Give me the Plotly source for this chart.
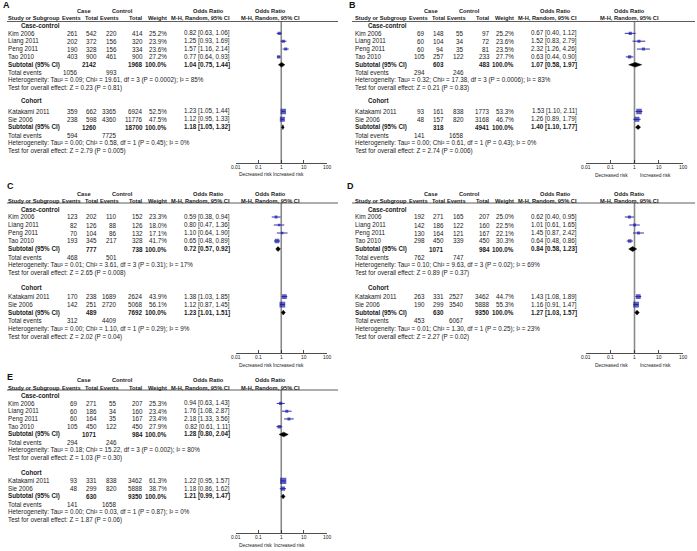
import math
import plotly.graph_objects as go

W, H = 697, 551
FONT = "Liberation Sans, Arial, sans-serif"

STUDIES = ["Kim 2006", "Liang 2011", "Peng 2011", "Tao 2010", "Katakami 2011", "Sie 2006"]
GROUPS = ["Case-control", "Cohort"]
TICK_VALS = [0.01, 0.1, 1, 10, 100]
TICK_TEXT = ["0.01", "0.1", "1", "10", "100"]
PANELS = ["A", "B", "C", "D", "E"]

# ---------------- Panel A ----------------
A_case_events = [261, 202, 190, 403, 359, 238]
A_case_total = [542, 372, 328, 900, 662, 598]
A_ctrl_events = [220, 156, 156, 461, 3365, 4360]
A_ctrl_total = [414, 320, 334, 900, 6924, 11776]
A_weight = [25.2, 23.9, 23.6, 27.2, 52.5, 47.5]
A_or = [0.82, 1.25, 1.57, 0.77, 1.23, 1.12]
A_lo = [0.63, 0.93, 1.16, 0.64, 1.05, 0.95]
A_hi = [1.06, 1.69, 2.14, 0.93, 1.44, 1.33]
A_sub_case_total = [2142, 1260]
A_sub_ctrl_total = [1968, 18700]
A_sub_or = [1.04, 1.18]
A_sub_lo = [0.75, 1.05]
A_sub_hi = [1.44, 1.32]
A_tot_case_events = [1056, 594]
A_tot_ctrl_events = [993, 7725]
A_het = ["Tau² = 0.09; Chi² = 19.61, df = 3 (P = 0.0002); I² = 85%",
         "Tau² = 0.00; Chi² = 0.58, df = 1 (P = 0.45); I² = 0%"]
A_test = ["Z = 0.23 (P = 0.81)", "Z = 2.79 (P = 0.005)"]

# ---------------- Panel B ----------------
B_case_events = [69, 60, 60, 105, 93, 48]
B_case_total = [148, 104, 94, 257, 161, 157]
B_ctrl_events = [55, 34, 35, 122, 838, 820]
B_ctrl_total = [97, 72, 81, 233, 1773, 3168]
B_weight = [25.2, 23.6, 23.5, 27.7, 53.3, 46.7]
B_or = [0.67, 1.52, 2.32, 0.63, 1.53, 1.26]
B_lo = [0.40, 0.83, 1.26, 0.44, 1.10, 0.89]
B_hi = [1.12, 2.79, 4.26, 0.90, 2.11, 1.79]
B_sub_case_total = [603, 318]
B_sub_ctrl_total = [483, 4941]
B_sub_or = [1.07, 1.40]
B_sub_lo = [0.58, 1.10]
B_sub_hi = [1.97, 1.77]
B_tot_case_events = [294, 141]
B_tot_ctrl_events = [246, 1658]
B_het = ["Tau² = 0.32; Chi² = 17.38, df = 3 (P = 0.0006); I² = 83%",
         "Tau² = 0.00; Chi² = 0.61, df = 1 (P = 0.43); I² = 0%"]
B_test = ["Z = 0.21 (P = 0.83)", "Z = 2.74 (P = 0.006)"]

# ---------------- Panel C ----------------
C_case_events = [123, 82, 70, 193, 170, 142]
C_case_total = [202, 126, 104, 345, 238, 251]
C_ctrl_events = [110, 88, 86, 217, 1689, 2720]
C_ctrl_total = [152, 126, 132, 328, 2624, 5068]
C_weight = [23.3, 18.0, 17.1, 41.7, 43.9, 56.1]
C_or = [0.59, 0.80, 1.10, 0.65, 1.38, 1.12]
C_lo = [0.38, 0.47, 0.64, 0.48, 1.03, 0.87]
C_hi = [0.94, 1.36, 1.90, 0.89, 1.85, 1.45]
C_sub_case_total = [777, 489]
C_sub_ctrl_total = [738, 7692]
C_sub_or = [0.72, 1.23]
C_sub_lo = [0.57, 1.01]
C_sub_hi = [0.92, 1.51]
C_tot_case_events = [468, 312]
C_tot_ctrl_events = [501, 4409]
C_het = ["Tau² = 0.01; Chi² = 3.61, df = 3 (P = 0.31); I² = 17%",
         "Tau² = 0.00; Chi² = 1.10, df = 1 (P = 0.29); I² = 9%"]
C_test = ["Z = 2.65 (P = 0.008)", "Z = 2.02 (P = 0.04)"]

# ---------------- Panel D ----------------
D_case_events = [192, 142, 130, 298, 263, 190]
D_case_total = [271, 186, 164, 450, 331, 299]
D_ctrl_events = [165, 122, 121, 339, 2527, 3540]
D_ctrl_total = [207, 160, 167, 450, 3462, 5888]
D_weight = [25.0, 22.5, 22.1, 30.3, 44.7, 55.3]
D_or = [0.62, 1.01, 1.45, 0.64, 1.43, 1.16]
D_lo = [0.40, 0.61, 0.87, 0.48, 1.08, 0.91]
D_hi = [0.95, 1.65, 2.42, 0.86, 1.89, 1.47]
D_sub_case_total = [1071, 630]
D_sub_ctrl_total = [984, 9350]
D_sub_or = [0.84, 1.27]
D_sub_lo = [0.58, 1.03]
D_sub_hi = [1.23, 1.57]
D_tot_case_events = [762, 453]
D_tot_ctrl_events = [747, 6067]
D_het = ["Tau² = 0.10; Chi² = 9.63, df = 3 (P = 0.02); I² = 69%",
         "Tau² = 0.01; Chi² = 1.30, df = 1 (P = 0.25); I² = 23%"]
D_test = ["Z = 0.89 (P = 0.37)", "Z = 2.27 (P = 0.02)"]

# ---------------- Panel E ----------------
E_case_events = [69, 60, 60, 105, 93, 48]
E_case_total = [271, 186, 164, 450, 331, 299]
E_ctrl_events = [55, 34, 35, 122, 838, 820]
E_ctrl_total = [207, 160, 167, 450, 3462, 5888]
E_weight = [25.3, 23.4, 23.4, 27.9, 61.3, 38.7]
E_or = [0.94, 1.76, 2.18, 0.82, 1.22, 1.18]
E_lo = [0.63, 1.08, 1.33, 0.61, 0.95, 0.86]
E_hi = [1.43, 2.87, 3.56, 1.11, 1.57, 1.62]
E_sub_case_total = [1071, 630]
E_sub_ctrl_total = [984, 9350]
E_sub_or = [1.28, 1.21]
E_sub_lo = [0.80, 0.99]
E_sub_hi = [2.04, 1.47]
E_tot_case_events = [294, 141]
E_tot_ctrl_events = [246, 1658]
E_het = ["Tau² = 0.18; Chi² = 15.22, df = 3 (P = 0.002); I² = 80%",
         "Tau² = 0.00; Chi² = 0.03, df = 1 (P = 0.87); I² = 0%"]
E_test = ["Z = 1.03 (P = 0.30)", "Z = 1.87 (P = 0.06)"]

DATA = {}
for _p in PANELS:
    g_ = globals()
    DATA[_p] = tuple(g_[f"{_p}_{k}"] for k in (
        "case_events", "case_total", "ctrl_events", "ctrl_total", "weight", "or", "lo", "hi",
        "sub_case_total", "sub_ctrl_total", "sub_or", "sub_lo", "sub_hi",
        "tot_case_events", "tot_ctrl_events", "het", "test"))

# ---------------- layout geometry (pixels) ----------------
GEOM = {
    "A": dict(dx=0, top=25.5, s=7.85, coh=9.55, cf=10.95, letter=(7, 5.5), hdr1=11, hdr2=18.3, hline=21.5,
              hline_x=(7, 338), axis_y=163.3, risk_y=174.5, plot_x=(236, 326.5), plot_hdr_x=270, risk_x=(255, 288)),
    "B": dict(dx=347, top=25.5, s=7.85, coh=9.55, cf=10.95, letter=(352, 5.5), hdr1=11, hdr2=18.3, hline=21.5,
              hline_x=(352, 695), axis_y=163.3, risk_y=175, plot_x=(585.7, 683.3), plot_hdr_x=629, risk_x=(611, 655)),
    "C": dict(dx=0, top=209, s=8.0, coh=9.8, cf=10.95, letter=(10, 185.5), hdr1=194, hdr2=200.7, hline=203,
              hline_x=(7, 338), axis_y=353, risk_y=365, plot_x=(236, 326.5), plot_hdr_x=270, risk_x=(255, 288)),
    "D": dict(dx=347, top=209, s=8.0, coh=9.8, cf=10.95, letter=(351, 185.5), hdr1=194, hdr2=200.7, hline=203,
              hline_x=(352, 695), axis_y=353.3, risk_y=365, plot_x=(585.7, 683.3), plot_hdr_x=629, risk_x=(611, 655)),
    "E": dict(dx=0, top=395.7, s=7.75, coh=9.9, cf=11.0, letter=(10, 376.5), hdr1=380, hdr2=387.7, hline=390,
              hline_x=(7, 338), axis_y=533.3, risk_y=545.7, plot_x=(236, 326.5), plot_hdr_x=270, risk_x=(255, 289)),
}
COL = dict(name=7.5, group=21, case_ev=78, case_tot=96.5, ctrl_ev=117, ctrl_tot=142.5, weight=167, orci=230)
HDR = dict(case=84, control=122, or_tbl=208, ev1=81, tot1=99, ev2=119, tot2=143, weight=166.5, mh=230)

FS = 6.3
FS_HDR = 5.7
FS_AX = 4.9
TXT = "#1a1a1a"
BLUE = "#1a1aa8"

fig = go.Figure()
annotations = []
shapes = []


def add_text(x, y, text, anchor="left", bold=False, size=FS, color=TXT):
    if bold:
        text = "<b>" + text + "</b>"
    annotations.append(dict(x=x / W, y=1 - y / H, xref="paper", yref="paper", text=text,
                            showarrow=False, xanchor=anchor, yanchor="middle",
                            font=dict(family=FONT, size=size, color=color),
                            borderpad=0, borderwidth=0))


def fmt_ci(o, l, h):
    return f"{o:.2f} [{l:.2f}, {h:.2f}]"


layout_axes = {}
for i, p in enumerate(PANELS, start=1):
    g = GEOM[p]
    (ce, ct, we, wt, wgt, orr, lo, hi, sct, swt, sor, slo, shi, tce, twe, het, test) = DATA[p]
    dx, top, s = g["dx"], g["top"], g["s"]
    cf = g["cf"]

    def ry(r):
        return top + s * r

    # header texts
    add_text(g["letter"][0], g["letter"][1], p, anchor="center", bold=True, size=9, color="#111")
    add_text(HDR["case"] + dx, g["hdr1"], "Case", "center", True, FS_HDR)
    add_text(HDR["control"] + dx, g["hdr1"], "Control", "center", True, FS_HDR)
    add_text(HDR["or_tbl"] + dx, g["hdr1"], "Odds Ratio", "center", True, FS_HDR)
    add_text(g["plot_hdr_x"], g["hdr1"], "Odds Ratio", "center", True, FS_HDR)
    add_text(COL["name"] + dx, g["hdr2"], "Study or Subgroup", "left", True, FS_HDR)
    add_text(HDR["ev1"] + dx, g["hdr2"], "Events", "right", True, FS_HDR)
    add_text(HDR["tot1"] + dx, g["hdr2"], "Total", "right", True, FS_HDR)
    add_text(HDR["ev2"] + dx, g["hdr2"], "Events", "right", True, FS_HDR)
    add_text(HDR["tot2"] + dx, g["hdr2"], "Total", "right", True, FS_HDR)
    add_text(HDR["weight"] + dx, g["hdr2"], "Weight", "right", True, FS_HDR)
    add_text(HDR["mh"] + dx, g["hdr2"], "M-H, Random, 95% CI", "right", True, FS_HDR)
    add_text(g["plot_hdr_x"], g["hdr2"], "M-H, Random, 95% CI", "center", True, FS_HDR)

    shapes.append(dict(type="line", xref="paper", yref="paper",
                       x0=g["hline_x"][0] / W, x1=g["hline_x"][1] / W,
                       y0=1 - g["hline"] / H, y1=1 - g["hline"] / H,
                       line=dict(color="#333", width=0.8)))

    study_rows = [1, 2, 3, 4, cf, cf + 1]
    group_rows = [0, g["coh"]]
    sub_rows = [5, cf + 2]
    tot_rows = [6, cf + 3]
    het_rows = [7, cf + 4]
    test_rows = [8, cf + 5]

    for k in range(2):
        add_text(COL["group"] + dx, ry(group_rows[k]), GROUPS[k], "left", True)
    for j, name in enumerate(STUDIES):
        y = ry(study_rows[j])
        add_text(COL["name"] + dx, y, name)
        add_text(COL["case_ev"] + dx, y, str(ce[j]), "right")
        add_text(COL["case_tot"] + dx, y, str(ct[j]), "right")
        add_text(COL["ctrl_ev"] + dx, y, str(we[j]), "right")
        add_text(COL["ctrl_tot"] + dx, y, str(wt[j]), "right")
        add_text(COL["weight"] + dx, y, f"{wgt[j]:.1f}%", "right")
        add_text(COL["orci"] + dx, y, fmt_ci(orr[j], lo[j], hi[j]), "right")
    for k in range(2):
        y = ry(sub_rows[k])
        add_text(COL["name"] + dx, y, "Subtotal (95% CI)", "left", True)
        add_text(COL["case_tot"] + dx, y, str(sct[k]), "right", True)
        add_text(COL["ctrl_tot"] + dx, y, str(swt[k]), "right", True)
        add_text(COL["weight"] + dx, y, "100.0%", "right", True)
        add_text(COL["orci"] + dx, y, fmt_ci(sor[k], slo[k], shi[k]), "right", True)
        y = ry(tot_rows[k])
        add_text(COL["name"] + dx, y, "Total events")
        add_text(COL["case_ev"] + dx, y, str(tce[k]), "right")
        add_text(COL["ctrl_ev"] + dx, y, str(twe[k]), "right")
        add_text(COL["name"] + dx, ry(het_rows[k]), "Heterogeneity: " + het[k])
        add_text(COL["name"] + dx, ry(test_rows[k]), "Test for overall effect: " + test[k])

    add_text(g["risk_x"][0], g["risk_y"], "Decreased risk", "center", size=FS_AX)
    add_text(g["risk_x"][1], g["risk_y"], "Increased risk", "center", size=FS_AX)

    # axes
    xa = "x" if i == 1 else f"x{i}"
    ya = "y" if i == 1 else f"y{i}"
    layout_axes["xaxis" if i == 1 else f"xaxis{i}"] = dict(
        type="log", range=[-2, 2], domain=[g["plot_x"][0] / W, g["plot_x"][1] / W],
        anchor="free", position=1 - g["axis_y"] / H,
        showline=True, linecolor="#222", linewidth=0.8, ticks="inside", ticklen=3,
        tickcolor="#222", tickwidth=0.8, tickvals=TICK_VALS, showticklabels=False,
        showgrid=False, zeroline=False, fixedrange=True)
    layout_axes["yaxis" if i == 1 else f"yaxis{i}"] = dict(
        domain=[0, 1], range=[(H - top) / s, -top / s], visible=False, fixedrange=True,
        anchor="free", position=0)

    # tick labels placed on the log axis
    for tv, tt in zip(TICK_VALS, TICK_TEXT):
        annotations.append(dict(x=math.log10(tv), xref=xa, y=1 - (g["axis_y"] + 4.6) / H, yref="paper",
                                text=tt, showarrow=False, xanchor="center", yanchor="middle",
                                font=dict(family=FONT, size=FS_AX, color=TXT), borderpad=0, borderwidth=0))

    # reference line at OR = 1
    fig.add_trace(go.Scatter(x=[1, 1], y=[(g["hline"] - top) / s, (g["axis_y"] - top) / s],
                             mode="lines", line=dict(color="#8a8a8a", width=1.6),
                             xaxis=xa, yaxis=ya, hoverinfo="skip"))
    # CI whiskers
    wx, wy = [], []
    for j in range(len(STUDIES)):
        wx += [lo[j], hi[j], None]
        wy += [study_rows[j], study_rows[j], None]
    fig.add_trace(go.Scatter(x=wx, y=wy, mode="lines", line=dict(color=BLUE, width=0.9),
                             xaxis=xa, yaxis=ya, hoverinfo="skip"))
    # squares
    fig.add_trace(go.Scatter(x=orr, y=study_rows, mode="markers",
                             marker=dict(symbol="square", color=BLUE,
                                         size=[1.0 + 0.085 * w for w in wgt], line=dict(width=0)),
                             xaxis=xa, yaxis=ya, hoverinfo="skip"))
    # diamonds
    hh = 0.3
    for k in range(2):
        r = sub_rows[k]
        fig.add_trace(go.Scatter(x=[slo[k], sor[k], shi[k], sor[k], slo[k]],
                                 y=[r, r - hh, r, r + hh, r], mode="lines", fill="toself",
                                 fillcolor="#000", line=dict(color="#000", width=0.5),
                                 xaxis=xa, yaxis=ya, hoverinfo="skip"))

fig.update_layout(width=W, height=H, margin=dict(l=0, r=0, t=0, b=0),
                  paper_bgcolor="white", plot_bgcolor="rgba(0,0,0,0)",
                  showlegend=False, annotations=annotations, shapes=shapes, **layout_axes)
fig.write_html("out.html", config={"displayModeBar": False, "staticPlot": True},
               post_script="document.body.style.margin='0px';document.documentElement.style.margin='0px';")
